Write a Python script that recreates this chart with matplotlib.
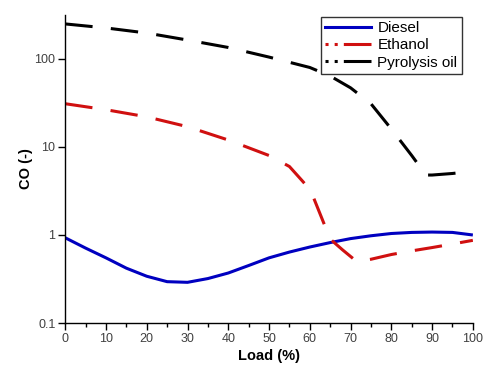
import matplotlib
matplotlib.use("Agg")
import matplotlib.pyplot as plt
from matplotlib.lines import Line2D
from matplotlib.ticker import FixedLocator, MultipleLocator, NullLocator, FuncFormatter

plt.rcParams['font.family'] = ['Liberation Sans', 'DejaVu Sans']

# data
diesel_x = [0, 5, 10, 15, 20, 25, 30, 35, 40, 45, 50, 55, 60, 65, 70, 75, 80, 85, 90, 95, 100]
diesel_y = [0.93, 0.71, 0.55, 0.42, 0.34, 0.295, 0.29, 0.32, 0.37, 0.45, 0.55, 0.64, 0.73,
            0.82, 0.91, 0.98, 1.04, 1.07, 1.08, 1.07, 1.0]

ethanol_x = [0, 10, 20, 30, 40, 50, 55, 58, 60, 61, 65, 68, 71.5, 75, 80, 85, 90, 95, 100]
ethanol_y = [31, 26.5, 22, 17, 12, 8, 6, 4.2, 3.3, 2.6, 0.9, 0.68, 0.5, 0.53, 0.6, 0.66,
             0.72, 0.79, 0.87]

pyro_x = [0, 10, 20, 30, 40, 50, 60, 65, 70, 75, 80, 85, 88.5, 90, 95, 100]
pyro_y = [250, 225, 197, 164, 135, 105, 80, 64, 47, 31, 16, 8, 4.8, 4.8, 5.0, 5.3]

fig = plt.figure(figsize=(4.83, 3.65), dpi=100)
ax = fig.add_axes([0.135, 0.115, 0.844, 0.844])

dash = (0, (9, 6))
ax.plot(diesel_x, diesel_y, color="#0000c0", lw=2.2, solid_capstyle="butt")
ax.plot(ethanol_x, ethanol_y, color="#d01010", lw=2.2, linestyle=dash)
ax.plot(pyro_x, pyro_y, color="black", lw=2.2, linestyle=dash)

ax.set_yscale("log")
ax.set_xlim(0, 100)
ax.set_ylim(0.1, 316)

ax.xaxis.set_major_locator(MultipleLocator(10))
ax.xaxis.set_minor_locator(MultipleLocator(5))
ax.yaxis.set_major_locator(FixedLocator([0.1, 1, 10, 100]))
ax.yaxis.set_minor_locator(NullLocator())
ax.yaxis.set_major_formatter(FuncFormatter(lambda v, p: "%g" % v))

for s in ["top", "right"]:
    ax.spines[s].set_visible(False)
for s in ["left", "bottom"]:
    ax.spines[s].set_linewidth(1.0)

ax.tick_params(which="major", direction="out", length=5, width=1, labelsize=9,
               labelcolor="#404040", pad=2)
ax.tick_params(which="minor", direction="out", length=3, width=1)

ax.set_xlabel("Load (%)", fontsize=10.5, fontweight="bold", labelpad=3)
ax.set_ylabel("CO (-)", fontsize=10.5, fontweight="bold", labelpad=1)

# legend keys: two dots then a long dash
dd = (0, (1, 2, 1, 2, 10, 3))
handles = [
    Line2D([], [], color="#0000c0", lw=2.2),
    Line2D([], [], color="#d01010", lw=2.2, linestyle=dd),
    Line2D([], [], color="black", lw=2.2, linestyle=dd),
]
leg = ax.legend(handles, ["Diesel", "Ethanol", "Pyrolysis oil"], loc="upper right",
                bbox_to_anchor=(0.973, 0.994), fontsize=11, frameon=True, fancybox=False,
                handlelength=3.0, handletextpad=0.4, labelspacing=0.2,
                borderpad=0.3, borderaxespad=0)
leg.get_frame().set_edgecolor("black")
leg.get_frame().set_linewidth(1.0)

fig.savefig("out.png", dpi=100)
